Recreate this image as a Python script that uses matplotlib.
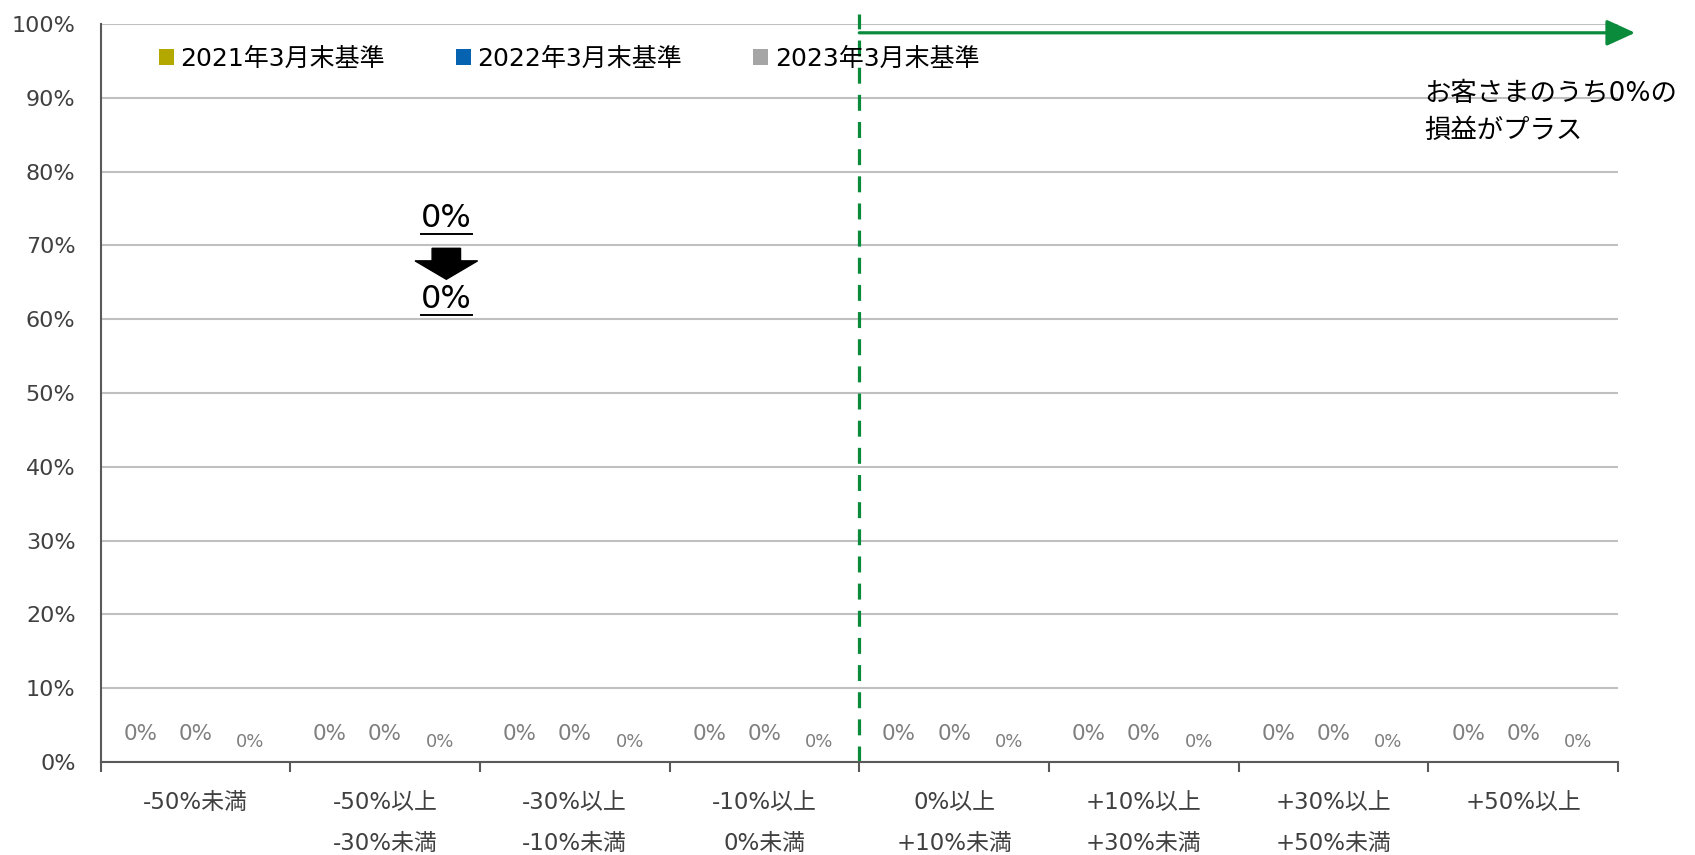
import matplotlib
matplotlib.use("Agg")
import matplotlib.pyplot as plt
from matplotlib.patches import FancyArrow
import numpy as np

# Latin glyphs from DejaVu (Verdana-like), Japanese falls back to Noto CJK
plt.rcParams['font.family'] = ['DejaVu Sans', 'Noto Sans CJK JP']

# data
categories = ["-50%未満", "-50%以上\n-30%未満", "-30%以上\n-10%未満", "-10%以上\n0%未満",
              "0%以上\n+10%未満", "+10%以上\n+30%未満", "+30%以上\n+50%未満", "+50%以上"]
series_names = ["2021年3月末基準", "2022年3月末基準", "2023年3月末基準"]
values_2021 = [0, 0, 0, 0, 0, 0, 0, 0]
values_2022 = [0, 0, 0, 0, 0, 0, 0, 0]
values_2023 = [0, 0, 0, 0, 0, 0, 0, 0]
series_values = [values_2021, values_2022, values_2023]
series_colors = ["#B2A800", "#0563B1", "#A5A5A5"]
plus_share = 0
change_from = 0
change_to = 0

fig = plt.figure(figsize=(16.95, 8.55), dpi=100)
ax = fig.add_axes([0.0593, 0.1088, 0.8953, 0.8632])

x = np.arange(len(categories))
bw = 0.29
label_pad = [13, 13, 8]
label_size = [15.5, 15.5, 13]
for i, (name, vals, col) in enumerate(zip(series_names, series_values, series_colors)):
    bars = ax.bar(x + (i - 1) * bw, vals, width=bw, color=col, label=name)
    ax.bar_label(bars, labels=[f"{v:.0f}%" for v in vals], padding=label_pad[i],
                 fontsize=label_size[i], color="#7F7F7F")

ax.set_xlim(-0.5, len(categories) - 0.5)
ax.set_ylim(0, 100)
ax.set_yticks(np.arange(0, 101, 10))
ax.set_yticklabels([f"{v}%" for v in range(0, 101, 10)], fontsize=16, color="#404040")
ax.tick_params(axis="y", length=0, pad=18)
ax.yaxis.grid(True, color="#C0C0C0", linewidth=1.5)
ax.set_axisbelow(True)

# category boundaries as major ticks, labels on minor ticks
ax.set_xticks(np.arange(-0.5, len(categories), 1.0))
ax.set_xticklabels([])
ax.tick_params(axis="x", which="major", length=7, width=1.5, color="#595959")
ax.set_xticks(x, minor=True)
ax.set_xticklabels(categories, minor=True, fontsize=16.5, color="#404040",
                   linespacing=2.0, va="top")
ax.tick_params(axis="x", which="minor", length=0, pad=21)

for s in ["top", "right"]:
    ax.spines[s].set_visible(False)
for s in ["left", "bottom"]:
    ax.spines[s].set_color("#595959")
    ax.spines[s].set_linewidth(1.5)

# boundary between loss and profit
green = "#0A8B3C"
ax.plot([3.5, 3.5], [0, 101.3], color=green, linewidth=2.3, dashes=(5, 3.5), clip_on=False)
ax.annotate("", xy=(7.59, 98.8), xytext=(3.5, 98.8),
            arrowprops=dict(arrowstyle="-|>,head_length=1.75,head_width=0.8",
                            color=green, linewidth=2.3, shrinkA=0, shrinkB=0),
            annotation_clip=False)
ax.text(6.48, 92.3, f"お客さまのうち{plus_share}%の\n損益がプラス", fontsize=19,
        ha="left", va="top", linespacing=1.55, color="black")

# change marker
ax.text(1.323, 73.7, f"{change_from}%", fontsize=23, ha="center", va="center")
ax.plot([1.19, 1.46], [71.6, 71.6], color="black", linewidth=1.4)
ax.add_patch(FancyArrow(1.323, 69.6, 0, -4.2, width=0.15, head_width=0.33,
                        head_length=2.5, length_includes_head=True, color="black"))
ax.text(1.323, 62.6, f"{change_to}%", fontsize=23, ha="center", va="center")
ax.plot([1.19, 1.46], [60.5, 60.5], color="black", linewidth=1.4)

ax.legend(loc="upper left", bbox_to_anchor=(0.032, 0.982), ncol=3, frameon=False,
          fontsize=18, handlelength=0.6, handleheight=0.6, handletextpad=0.25,
          columnspacing=2.85, borderaxespad=0)

fig.savefig("out.png", dpi=100)
